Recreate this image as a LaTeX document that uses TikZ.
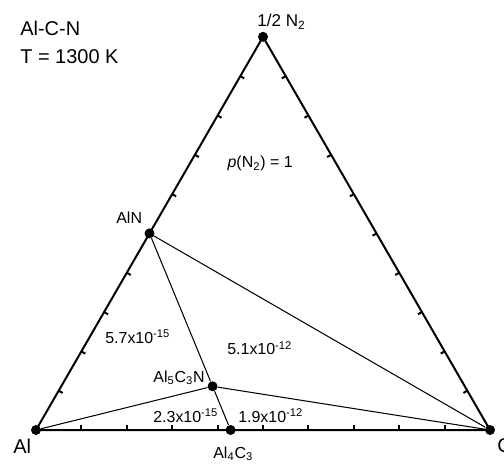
\documentclass[tikz,border=0pt]{standalone}
\usepackage{fontspec}
\setmainfont{Liberation Sans}
\usetikzlibrary{calc,positioning}

\begin{document}
\begin{tikzpicture}[
    phase/.style={circle,fill=black,inner sep=0pt,minimum size=2.2mm},
    lbl/.style={font=\fontsize{10}{12}\selectfont,inner sep=0pt},
    biglbl/.style={font=\fontsize{12.5}{15}\selectfont,inner sep=0pt},
    side/.style={line width=1.25pt},
    tie/.style={line width=0.65pt}
  ]
  \useasboundingbox (-0.793,-0.793) rectangle (10.308,9.471);
  % corners and compounds
  \node[phase] (Al) at (0,0) {};
  \node[phase] (C) at (10,0) {};
  \node[phase] (N) at (5,8.660) {};
  \node[phase] (AlN) at (2.5,4.330) {};
  \node[phase] (AlfC) at (4.2857,0) {};
  \node[phase] (AlcN) at (3.889,0.962) {};
  % sides of the triangle
  \draw[side] (Al.center)--(C.center)--(N.center)--cycle;
  \foreach \t in {1,...,9}{
    \draw[side] ($(Al.center)!\t/10!(C.center)$) --++(90:0.1);
    \draw[side] ($(Al.center)!\t/10!(N.center)$) --++(-30:0.1);
    \draw[side] ($(N.center)!\t/10!(C.center)$) --++(210:0.1);
  }
  % tie lines
  \draw[tie] (AlN)--(C);
  \draw[tie] (AlN)--(AlcN);
  \draw[tie] (Al)--(AlcN);
  \draw[tie] (AlcN)--(C);
  \draw[tie] (AlcN)--(AlfC);
  % labels
  \node[biglbl,anchor=base west] (sys) at (-0.352,8.70) {Al-C-N};
  \node[biglbl,anchor=base west] (temp) at (-0.352,8.08) {T = 1300 K};
  \node[lbl,font=\fontsize{10.7}{13}\selectfont,anchor=base west] (Nlbl) at (4.868,8.877)
    {1/2 N\textsubscript{2}};
  \node[biglbl,anchor=base west] (Allbl) at (-0.507,-0.507) {Al};
  \node[biglbl,anchor=base west] (Clbl) at (10.154,-0.485) {C};
  \node[lbl,anchor=base west] (AlNlbl) at (1.762,4.559) {AlN};
  \node[lbl,anchor=base east] (AlcNlbl) at (3.722,1.057)
    {Al\textsubscript{5}C\textsubscript{3}N};
  \node[lbl,anchor=base west] (AlfClbl) at (3.899,-0.617)
    {Al\textsubscript{4}C\textsubscript{3}};
  \node[lbl,anchor=base east] (pN) at (5.661,5.771)
    {\textit{p}(N\textsubscript{2}) = 1};
  \node[lbl,anchor=base west] (pa) at (1.520,1.916) {5.7x10\textsuperscript{-15}};
  \node[lbl,anchor=base west] (pb) at (4.207,1.652) {5.1x10\textsuperscript{-12}};
  \node[lbl,anchor=base west] (pc) at (2.577,0.176) {2.3x10\textsuperscript{-15}};
  \node[lbl,anchor=base west] (pd) at (4.449,0.176) {1.9x10\textsuperscript{-12}};
\end{tikzpicture}
\end{document}
